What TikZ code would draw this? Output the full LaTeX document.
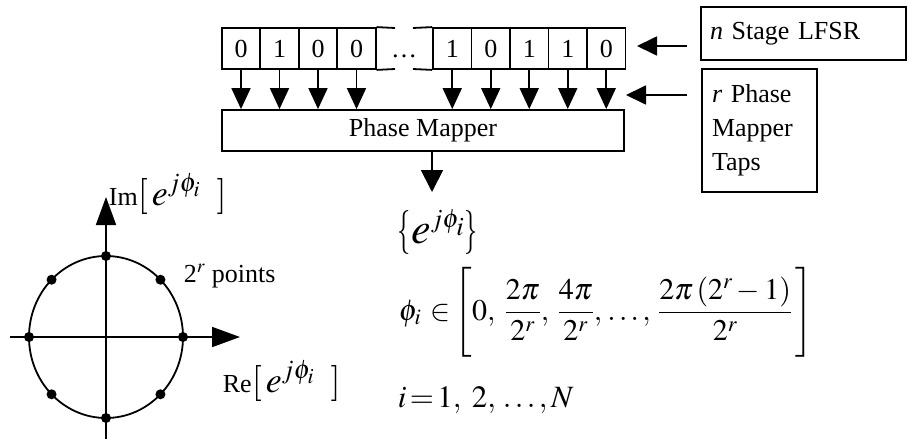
\documentclass[tikz,border=0pt]{standalone}
\usepackage{graphicx}
\usepackage{mathptmx}
\usepackage[no-math]{fontspec}
\setmainfont{Liberation Serif}
\usetikzlibrary{arrows.meta}
\newcommand\myfs{\fontsize{26}{30}\selectfont}
\newcommand\bigfs{\fontsize{30}{36}\selectfont}
\newcommand\labfs{\fontsize{36}{42}\selectfont}
\newcommand\setfs{\fontsize{44}{52}\selectfont}
\newcommand\smallop[1]{\mbox{\fontsize{26}{30}\selectfont #1}}
\newcommand\thinbrace[1]{\mbox{\scalebox{0.6}[1]{$#1$}}}
\begin{document}
\begin{tikzpicture}[x=1pt,y=-1pt,line width=1.8pt,font=\myfs,
  cell/.style={draw, minimum width=38.5pt, minimum height=41pt, inner sep=0pt},
  taparr/.style={-{Triangle[length=21pt,width=19pt]}},
  axarr/.style={-{Triangle[length=28pt,width=20pt]}},
  outarr/.style={-{Triangle[length=22pt,width=22pt]}},
  sidearr/.style={-{Triangle[length=20pt,width=19pt]}},
  lbl/.style={anchor=base west, inner sep=0pt}]
\useasboundingbox (0,0) rectangle (907,439);
% register cells
\foreach \i/\x/\d in {1/241/0,2/279.5/1,3/318/0,4/356.5/0,5/452.25/1,6/490.75/0,7/529.25/1,8/567.75/1,9/606.25/0}
  \node[cell] (c\i) at (\x,48.5) {\d};
\coordinate (g1t) at (395,28);
\coordinate (g1b) at (395,69);
\coordinate (g2t) at (413,28);
\coordinate (g2b) at (413,69);
\draw (c4.north east) -- (g1t);
\draw (c4.south east) -- (g1b);
\draw (g2t) -- (c5.north west);
\draw (g2b) -- (c5.south west);
\node[anchor=base, inner sep=0pt] (dots) at (404,57) {\ldots};
% phase mapper
\node[draw, minimum width=402pt, minimum height=41pt, inner sep=0pt] (pm) at (423,130.5) {Phase Mapper};
\foreach \i in {1,...,9} \draw[taparr] (c\i.south) -- (c\i.south |- pm.north);
\coordinate (outtip) at (432,192);
\draw[outarr] (pm.south -| outtip) -- (outtip);
% side boxes
\node[draw, minimum height=53pt, inner xsep=9pt, text width=187pt, align=left] (lfsr) at (803.5,33.5) {\textit{n} Stage LFSR};
\node[draw, minimum height=123pt, inner xsep=10pt, text width=95pt, align=left, font=\fontsize{26}{34}\selectfont] (taps) at (759.5,130.5) {\textit{r} Phase\\Mapper\\Taps};
\coordinate (a1) at (687,46);
\coordinate (a1t) at (637,46);
\coordinate (a2) at (687,95);
\coordinate (a2t) at (626,95);
\draw[sidearr] (a1) -- (a1t);
\draw[sidearr] (a2) -- (a2t);
% constellation
\coordinate (O) at (106,337);
\draw (O) ellipse [x radius=77pt, y radius=81pt];
\coordinate (xl) at (10,337);
\coordinate (xr) at (240,337);
\coordinate (yb) at (106,439);
\coordinate (yt) at (106,197);
\draw[axarr] (xl) -- (xr);
\draw[axarr] (yb) -- (yt);
\foreach \a in {0,45,...,315} \fill (O) ++(\a:77pt and 81pt) circle[radius=5pt];
\node[lbl, font=\labfs] (imlab) at (108,205) {$\smallop{Im}[\,e^{j\phi_i}\;\;]$};
\node[lbl] (pts) at (183,282) {2$^{r}$ points};
\node[lbl, font=\labfs] (relab) at (222,392) {$\smallop{Re}[\,e^{j\phi_i}\;\;]$};
% formulas
\node[lbl, font=\setfs] (set) at (397,243) {$\thinbrace{\{}e^{\scriptscriptstyle j\phi_i}\thinbrace{\}}$};
\node[lbl, font=\bigfs] (phi) at (398,320) {$\displaystyle\phi_i\hspace{9pt}{\in}\hspace{1pt}\left[\rule[-38pt]{0pt}{92pt}0,\hspace{6pt}\frac{2\pi}{2^r},\hspace{5pt}\frac{4\pi}{2^r},\hspace{2pt}\ldots,\hspace{4pt}\frac{2\pi\left(2^r-1\right)}{2^r}\hspace{3pt}\right]$};
\node[lbl, font=\fontsize{31}{37}\selectfont] (idx) at (397,407) {$i\!=\!1,\;2,\,\ldots,N$};
\end{tikzpicture}
\end{document}
